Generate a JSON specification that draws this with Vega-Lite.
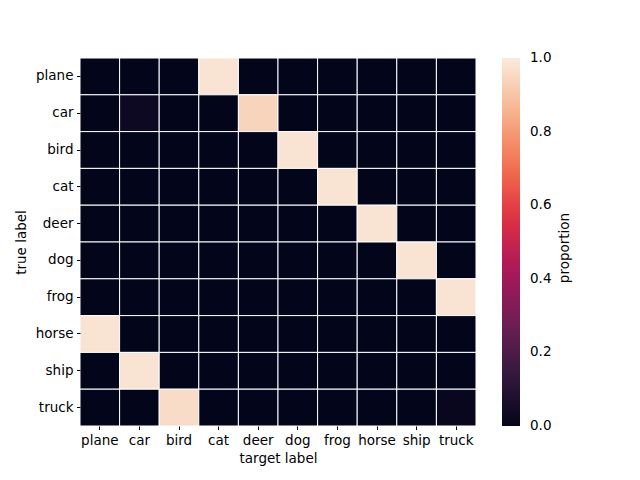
{
  "$schema": "https://vega.github.io/schema/vega-lite/v6.json",
  "autosize": {"type": "none"},
  "padding": {"left": 80, "top": 58, "right": 164, "bottom": 54},
  "width": 396,
  "height": 368,
  "background": "white",
  "config": {
    "font": "DejaVu Sans",
    "view": {"stroke": null},
    "axis": {"labelFontSize": 13.5, "titleFontSize": 13.5, "labelColor": "black", "titleColor": "black", "tickColor": "black", "domain": false, "titleFontWeight": "normal", "labelFont": "DejaVu Sans", "titleFont": "DejaVu Sans"}
  },
  "data": {"values": [
    {"t":"plane","p":"plane","v":0.0},{"t":"plane","p":"car","v":0.0},{"t":"plane","p":"bird","v":0.0},{"t":"plane","p":"cat","v":0.98},{"t":"plane","p":"deer","v":0.0},{"t":"plane","p":"dog","v":0.0},{"t":"plane","p":"frog","v":0.0},{"t":"plane","p":"horse","v":0.0},{"t":"plane","p":"ship","v":0.0},{"t":"plane","p":"truck","v":0.0},
    {"t":"car","p":"plane","v":0.0},{"t":"car","p":"car","v":0.03},{"t":"car","p":"bird","v":0.0},{"t":"car","p":"cat","v":0.0},{"t":"car","p":"deer","v":0.94},{"t":"car","p":"dog","v":0.0},{"t":"car","p":"frog","v":0.0},{"t":"car","p":"horse","v":0.0},{"t":"car","p":"ship","v":0.0},{"t":"car","p":"truck","v":0.0},
    {"t":"bird","p":"plane","v":0.0},{"t":"bird","p":"car","v":0.0},{"t":"bird","p":"bird","v":0.0},{"t":"bird","p":"cat","v":0.0},{"t":"bird","p":"deer","v":0.0},{"t":"bird","p":"dog","v":0.98},{"t":"bird","p":"frog","v":0.0},{"t":"bird","p":"horse","v":0.0},{"t":"bird","p":"ship","v":0.0},{"t":"bird","p":"truck","v":0.0},
    {"t":"cat","p":"plane","v":0.0},{"t":"cat","p":"car","v":0.0},{"t":"cat","p":"bird","v":0.0},{"t":"cat","p":"cat","v":0.0},{"t":"cat","p":"deer","v":0.0},{"t":"cat","p":"dog","v":0.0},{"t":"cat","p":"frog","v":0.98},{"t":"cat","p":"horse","v":0.0},{"t":"cat","p":"ship","v":0.0},{"t":"cat","p":"truck","v":0.0},
    {"t":"deer","p":"plane","v":0.0},{"t":"deer","p":"car","v":0.0},{"t":"deer","p":"bird","v":0.0},{"t":"deer","p":"cat","v":0.0},{"t":"deer","p":"deer","v":0.0},{"t":"deer","p":"dog","v":0.0},{"t":"deer","p":"frog","v":0.0},{"t":"deer","p":"horse","v":0.98},{"t":"deer","p":"ship","v":0.0},{"t":"deer","p":"truck","v":0.0},
    {"t":"dog","p":"plane","v":0.0},{"t":"dog","p":"car","v":0.0},{"t":"dog","p":"bird","v":0.0},{"t":"dog","p":"cat","v":0.0},{"t":"dog","p":"deer","v":0.0},{"t":"dog","p":"dog","v":0.0},{"t":"dog","p":"frog","v":0.0},{"t":"dog","p":"horse","v":0.0},{"t":"dog","p":"ship","v":0.98},{"t":"dog","p":"truck","v":0.0},
    {"t":"frog","p":"plane","v":0.0},{"t":"frog","p":"car","v":0.0},{"t":"frog","p":"bird","v":0.0},{"t":"frog","p":"cat","v":0.0},{"t":"frog","p":"deer","v":0.0},{"t":"frog","p":"dog","v":0.0},{"t":"frog","p":"frog","v":0.0},{"t":"frog","p":"horse","v":0.0},{"t":"frog","p":"ship","v":0.0},{"t":"frog","p":"truck","v":0.98},
    {"t":"horse","p":"plane","v":0.98},{"t":"horse","p":"car","v":0.0},{"t":"horse","p":"bird","v":0.0},{"t":"horse","p":"cat","v":0.0},{"t":"horse","p":"deer","v":0.0},{"t":"horse","p":"dog","v":0.0},{"t":"horse","p":"frog","v":0.0},{"t":"horse","p":"horse","v":0.0},{"t":"horse","p":"ship","v":0.0},{"t":"horse","p":"truck","v":0.0},
    {"t":"ship","p":"plane","v":0.0},{"t":"ship","p":"car","v":0.98},{"t":"ship","p":"bird","v":0.0},{"t":"ship","p":"cat","v":0.0},{"t":"ship","p":"deer","v":0.0},{"t":"ship","p":"dog","v":0.0},{"t":"ship","p":"frog","v":0.0},{"t":"ship","p":"horse","v":0.0},{"t":"ship","p":"ship","v":0.0},{"t":"ship","p":"truck","v":0.0},
    {"t":"truck","p":"plane","v":0.0},{"t":"truck","p":"car","v":0.0},{"t":"truck","p":"bird","v":0.96},{"t":"truck","p":"cat","v":0.0},{"t":"truck","p":"deer","v":0.0},{"t":"truck","p":"dog","v":0.0},{"t":"truck","p":"frog","v":0.0},{"t":"truck","p":"horse","v":0.0},{"t":"truck","p":"ship","v":0.0},{"t":"truck","p":"truck","v":0.015}
  ]},
  "mark": {"type": "rect", "stroke": "white", "strokeWidth": 1},
  "encoding": {
    "x": {"field": "p", "type": "nominal", "title": "target label",
          "sort": ["plane","car","bird","cat","deer","dog","frog","horse","ship","truck"],
          "scale": {"paddingInner": 0, "paddingOuter": 0},
          "axis": {"labelAngle": 0, "tickSize": 3.5, "labelPadding": 3.5, "titlePadding": 5}},
    "y": {"field": "t", "type": "nominal", "title": "true label",
          "sort": ["plane","car","bird","cat","deer","dog","frog","horse","ship","truck"],
          "scale": {"paddingInner": 0, "paddingOuter": 0},
          "axis": {"tickSize": 3.5, "labelPadding": 3.5, "titlePadding": 7}},
    "color": {"field": "v", "type": "quantitative", "title": "proportion",
      "scale": {"domain": [0, 1], "interpolate": "rgb",
        "range": ["#03051a", "#35193e", "#701f57", "#ad1759", "#e13342", "#f37651", "#f6b48f", "#faebdd"]},
      "legend": {"orient": "none", "legendX": 422, "legendY": 0, "direction": "vertical",
        "gradientLength": 368, "gradientThickness": 18, "gradientStrokeWidth": 0,
        "values": [0, 0.2, 0.4, 0.6, 0.8, 1.0], "format": ".1f",
        "labelFontSize": 13.5, "labelColor": "black", "labelFont": "DejaVu Sans", "labelOffset": 10, "labelBaseline": "middle",
        "titleOrient": "right", "titleAngle": -90, "titleAnchor": "middle",
        "titleFontSize": 13.5, "titleFontWeight": "normal", "titleColor": "black", "titleFont": "DejaVu Sans", "titlePadding": 7,
        "encode": {
          "labels": {"update": {"baseline": {"value": "middle"}}},
          "title": {"update": {"angle": {"value": -90}, "baseline": {"value": "top"}, "dx": {"value": -6}}}
        }}
    }
  }
}
